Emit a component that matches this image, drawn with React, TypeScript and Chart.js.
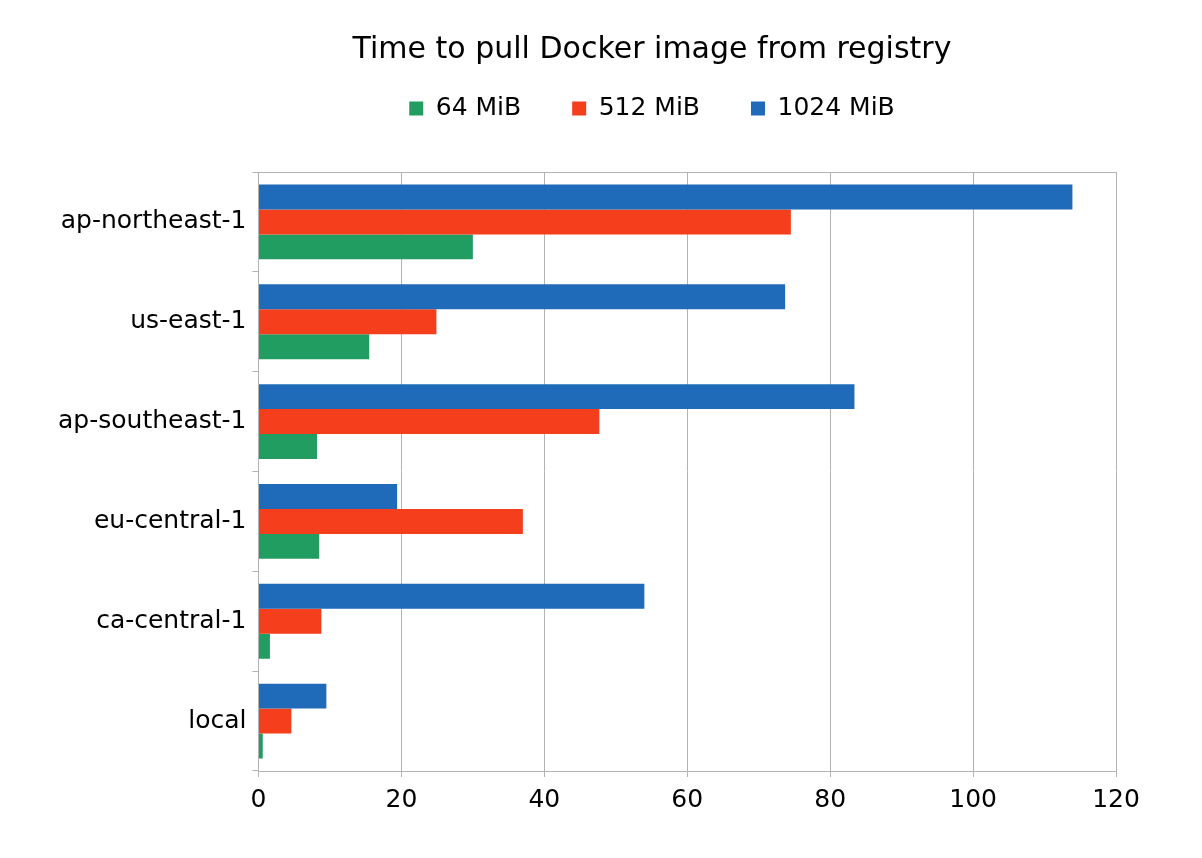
import React, { useEffect, useRef } from "react";
import { Chart, registerables } from "chart.js";

Chart.register(...registerables);

const categories = ["ap-northeast-1", "us-east-1", "ap-southeast-1", "eu-central-1", "ca-central-1", "local"];
const mib1024 = [113.9, 73.7, 83.4, 19.4, 54.0, 9.5];
const mib512 = [74.5, 24.9, 47.7, 37.0, 8.8, 4.6];
const mib64 = [30.0, 15.5, 8.2, 8.5, 1.6, 0.6];
const xTicks = [0, 20, 40, 60, 80, 100, 120];

const FONT = "'DejaVu Sans', Verdana, sans-serif";
const GRID = "#b3b3b3";
const HEADER_SHIFT = 68;

const shiftHeader = {
  id: "shiftHeader",
  afterLayout(chart: any) {
    [chart.titleBlock, chart.legend].forEach((box: any) => {
      if (box) {
        box.left += HEADER_SHIFT;
        box.right += HEADER_SHIFT;
      }
    });
  },
};

export default function App() {
  const ref = useRef<HTMLCanvasElement | null>(null);
  useEffect(() => {
    document.body.style.margin = "0";
    const chart = new Chart(ref.current as HTMLCanvasElement, {
      type: "bar",
      data: {
        labels: categories,
        datasets: [
          { label: "1024 MiB", data: mib1024, backgroundColor: "#1f6ab9", xAxisID: "x" },
          { label: "512 MiB", data: mib512, backgroundColor: "#f53e1b", xAxisID: "x" },
          { label: "64 MiB", data: mib64, backgroundColor: "#219d61", xAxisID: "x" },
        ],
      },
      options: {
        indexAxis: "y",
        animation: false,
        responsive: false,
        maintainAspectRatio: false,
        datasets: { bar: { categoryPercentage: 0.75, barPercentage: 1 } },
        layout: { padding: { left: 52, right: 86, top: 20, bottom: 35 } },
        plugins: {
          title: {
            display: true,
            text: "Time to pull Docker image from registry",
            color: "#000",
            font: { family: FONT, size: 30, weight: "normal" },
            padding: { top: 12, bottom: -23 },
          },
          legend: {
            reverse: true,
            labels: {
              color: "#000",
              font: { family: FONT, size: 25 },
              boxWidth: 14,
              boxHeight: 14,
              padding: 51,
            },
          },
          tooltip: { enabled: false },
        },
        scales: {
          x: {
            min: 0,
            max: 120,
            afterBuildTicks: (scale: any) => {
              scale.ticks = xTicks.map((v) => ({ value: v }));
            },
            grid: { color: GRID, tickLength: 6, drawTicks: true },
            border: { color: GRID },
            ticks: { color: "#000", font: { family: FONT, size: 25 }, padding: 8 },
          },
          x2: {
            type: "linear",
            position: "top",
            min: 0,
            max: 120,
            grid: { display: false },
            ticks: { display: false },
            border: { display: true, color: GRID },
            afterFit: (scale: any) => {
              scale.height = 41;
            },
          },
          y: {
            grid: { color: GRID, drawOnChartArea: false, tickLength: 6, offset: true },
            border: { color: GRID },
            ticks: { color: "#000", font: { family: FONT, size: 25 }, padding: 6 },
          },
        },
      },
      plugins: [shiftHeader],
    } as any);
    return () => chart.destroy();
  }, []);
  return (
    <div style={{ width: 1202, height: 858 }}>
      <canvas ref={ref} width={1202} height={858} />
    </div>
  );
}
